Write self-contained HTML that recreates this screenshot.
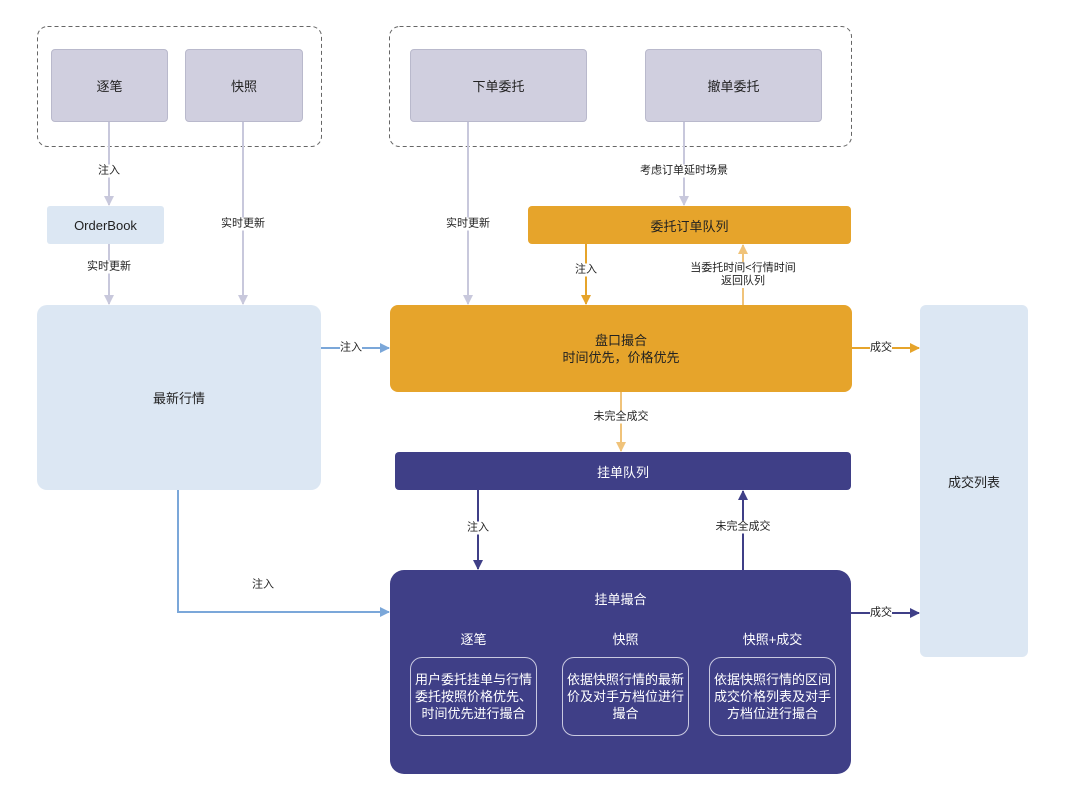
<!DOCTYPE html>
<html><head><meta charset="utf-8"><style>
body{margin:0;background:#fff;font-family:"Liberation Sans","Noto Sans CJK SC",sans-serif;}
#c{position:relative;width:1080px;height:786px;overflow:hidden}
.b{position:absolute;display:flex;align-items:center;justify-content:center;text-align:center;font-size:13px;color:#222;box-sizing:border-box}
.g{background:#d0cfdf;border:1px solid #b9b9cc;border-radius:4px}
.l{background:#dce7f3;border-radius:10px}
.o{background:#e6a42b;border-radius:4px;color:#222}
.n{background:#3f3f87;color:#fff;border-radius:4px}
.s{border:1.5px solid #c9c9e0;border-radius:12px;color:#fff;font-size:13px;line-height:17px;padding:0}
.t{position:absolute;font-size:11px;color:#222;background:#fff;transform:translate(-50%,-50%);white-space:nowrap;text-align:center;line-height:13px}
</style></head><body><div id="c">
<svg width="1080" height="786" style="position:absolute;left:0;top:0">
<defs>
<marker id="ag" markerWidth="10" markerHeight="10" refX="9" refY="5" orient="auto" markerUnits="userSpaceOnUse"><path d="M0,0L10,5L0,10z" fill="#c8c8dc"/></marker>
<marker id="ao" markerWidth="10" markerHeight="10" refX="9" refY="5" orient="auto" markerUnits="userSpaceOnUse"><path d="M0,0L10,5L0,10z" fill="#e6a42b"/></marker>
<marker id="al" markerWidth="10" markerHeight="10" refX="9" refY="5" orient="auto" markerUnits="userSpaceOnUse"><path d="M0,0L10,5L0,10z" fill="#f0c37a"/></marker>
<marker id="ab" markerWidth="10" markerHeight="10" refX="9" refY="5" orient="auto" markerUnits="userSpaceOnUse"><path d="M0,0L10,5L0,10z" fill="#7ba7d9"/></marker>
<marker id="an" markerWidth="10" markerHeight="10" refX="9" refY="5" orient="auto" markerUnits="userSpaceOnUse"><path d="M0,0L10,5L0,10z" fill="#3f3f87"/></marker>
</defs>
<rect x="37.5" y="26.5" width="284" height="120" rx="10" fill="none" stroke="#666" stroke-dasharray="4,3"/>
<rect x="389.5" y="26.5" width="462" height="120" rx="10" fill="none" stroke="#666" stroke-dasharray="4,3"/>
<g stroke-width="2" fill="none">
<line x1="109" y1="122" x2="109" y2="205" stroke="#c8c8dc" marker-end="url(#ag)"/>
<line x1="109" y1="244" x2="109" y2="304" stroke="#c8c8dc" marker-end="url(#ag)"/>
<line x1="243" y1="122" x2="243" y2="304" stroke="#c8c8dc" marker-end="url(#ag)"/>
<line x1="468" y1="122" x2="468" y2="304" stroke="#c8c8dc" marker-end="url(#ag)"/>
<line x1="684" y1="122" x2="684" y2="205" stroke="#c8c8dc" marker-end="url(#ag)"/>
<line x1="586" y1="244" x2="586" y2="304" stroke="#e6a42b" marker-end="url(#ao)"/>
<line x1="743" y1="305" x2="743" y2="245" stroke="#f0c37a" marker-end="url(#al)"/>
<line x1="321" y1="348" x2="389" y2="348" stroke="#7ba7d9" marker-end="url(#ab)"/>
<line x1="852" y1="348" x2="919" y2="348" stroke="#e6a42b" marker-end="url(#ao)"/>
<line x1="621" y1="392" x2="621" y2="451" stroke="#f0c37a" marker-end="url(#al)"/>
<line x1="478" y1="490" x2="478" y2="569" stroke="#3f3f87" marker-end="url(#an)"/>
<line x1="743" y1="570" x2="743" y2="491" stroke="#3f3f87" marker-end="url(#an)"/>
<polyline points="178,490 178,612 389,612" stroke="#7ba7d9" marker-end="url(#ab)"/>
<line x1="851" y1="613" x2="919" y2="613" stroke="#3f3f87" marker-end="url(#an)"/>
</g></svg>
<div class="b g" style="left:51px;top:49px;width:117px;height:73px">逐笔</div>
<div class="b g" style="left:185px;top:49px;width:118px;height:73px">快照</div>
<div class="b g" style="left:410px;top:49px;width:177px;height:73px">下单委托</div>
<div class="b g" style="left:645px;top:49px;width:177px;height:73px">撤单委托</div>
<div class="b l" style="left:47px;top:206px;width:117px;height:38px;border-radius:3px">OrderBook</div>
<div class="b l" style="left:37px;top:305px;width:284px;height:185px">最新行情</div>
<div class="b o" style="left:528px;top:206px;width:323px;height:38px">委托订单队列</div>
<div class="b o" style="left:390px;top:305px;width:462px;height:87px;border-radius:8px;line-height:17px">盘口撮合<br>时间优先，价格优先</div>
<div class="b n" style="left:395px;top:452px;width:456px;height:38px">挂单队列</div>
<div class="b n" style="left:390px;top:570px;width:461px;height:204px;border-radius:14px"></div>
<div class="b l" style="left:920px;top:305px;width:108px;height:352px;border-radius:6px">成交列表</div>
<div class="b" style="left:390px;top:588px;width:461px;height:20px;color:#fff">挂单撮合</div>
<div class="b" style="left:410px;top:628px;width:127px;height:20px;color:#fff">逐笔</div>
<div class="b" style="left:562px;top:628px;width:127px;height:20px;color:#fff">快照</div>
<div class="b" style="left:709px;top:628px;width:127px;height:20px;color:#fff">快照+成交</div>
<div class="b s" style="left:410px;top:657px;width:127px;height:79px">用户委托挂单与行情委托按照价格优先、时间优先进行撮合</div>
<div class="b s" style="left:562px;top:657px;width:127px;height:79px">依据快照行情的最新价及对手方档位进行撮合</div>
<div class="b s" style="left:709px;top:657px;width:127px;height:79px">依据快照行情的区间成交价格列表及对手方档位进行撮合</div>
<div class="t" style="left:109px;top:171px">注入</div>
<div class="t" style="left:109px;top:267px">实时更新</div>
<div class="t" style="left:243px;top:224px">实时更新</div>
<div class="t" style="left:468px;top:224px">实时更新</div>
<div class="t" style="left:684px;top:171px">考虑订单延时场景</div>
<div class="t" style="left:586px;top:270px">注入</div>
<div class="t" style="left:743px;top:275px">当委托时间&lt;行情时间<br>返回队列</div>
<div class="t" style="left:351px;top:348px">注入</div>
<div class="t" style="left:881px;top:348px">成交</div>
<div class="t" style="left:621px;top:417px">未完全成交</div>
<div class="t" style="left:478px;top:528px">注入</div>
<div class="t" style="left:743px;top:527px">未完全成交</div>
<div class="t" style="left:263px;top:585px">注入</div>
<div class="t" style="left:881px;top:613px">成交</div>
</div></body></html>
